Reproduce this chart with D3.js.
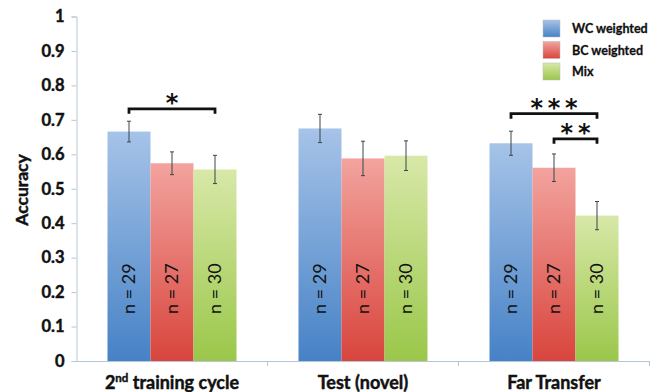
<!DOCTYPE html>
<html><head><meta charset="utf-8">
<script src="https://cdn.jsdelivr.net/npm/d3@7"></script>
<style>body{margin:0;background:#fff}svg{display:block}</style>
</head><body>
<svg id="c" width="652" height="392"></svg>
<script>
const categories = ["2nd training cycle", "Test (novel)", "Far Transfer"];
const seriesNames = ["WC weighted", "BC weighted", "Mix"];
const means = [
  [0.666, 0.675, 0.632],
  [0.574, 0.588, 0.561],
  [0.556, 0.596, 0.422]
];
const errors = [
  [0.030, 0.041, 0.035],
  [0.033, 0.050, 0.040],
  [0.041, 0.043, 0.041]
];
const nLabels = [
  ["n = 29", "n = 29", "n = 29"],
  ["n = 27", "n = 27", "n = 27"],
  ["n = 30", "n = 30", "n = 30"]
];
const yTicks = [0, 0.1, 0.2, 0.3, 0.4, 0.5, 0.6, 0.7, 0.8, 0.9, 1];
const sigBrackets = [
  {cat: 0, from: 0, to: 2, label: "*", at: 0.732},
  {cat: 2, from: 0, to: 2, label: "***", at: 0.718},
  {cat: 2, from: 1, to: 2, label: "**", at: 0.645}
];

const colors = [
  ["#a6c3e8", "#4682c6"],
  ["#f3a39e", "#d8453d"],
  ["#d8e8a8", "#9ac74a"]
];

const svg = d3.select("#c");
const font = "Lato, 'Open Sans', sans-serif";
const x0 = d3.scaleBand().domain(d3.range(categories.length)).range([76.5, 649.5]).paddingInner(0).paddingOuter(0);
const barW = 43;
const x1 = d3.scaleBand().domain(d3.range(seriesNames.length)).range([0, barW * 3]);
const groupOffset = (x0.bandwidth() - barW * 3) / 2;
const y = d3.scaleLinear().domain([0, 1]).range([361, 16.5]);

const defs = svg.append("defs");
colors.forEach((c, i) => {
  const g = defs.append("linearGradient").attr("id", "g" + i).attr("x1", 0).attr("y1", 0).attr("x2", 0).attr("y2", 1);
  g.append("stop").attr("offset", "0%").attr("stop-color", c[0]);
  g.append("stop").attr("offset", "100%").attr("stop-color", c[1]);
});

const boldText = sel => sel.attr("font-family", font).attr("font-weight", "bold").attr("fill", "#111")
  .attr("stroke", "#111").attr("stroke-width", 0.45);

// y axis
const yAxis = d3.axisLeft(y).tickValues(yTicks).tickSize(5).tickPadding(7)
  .tickFormat(d => d === 0 ? "0" : d === 1 ? "1" : d3.format(".1f")(d));
const ga = svg.append("g").attr("transform", "translate(76.5,0)").call(yAxis);
ga.select(".domain").attr("stroke", "#b7c6d6");
ga.selectAll(".tick line").attr("stroke", "#b7c6d6");
ga.selectAll(".tick text").call(boldText).attr("font-size", 16.5);

// x axis
const xAxis = d3.axisBottom(x0).tickSize(0).tickFormat("");
const gx = svg.append("g").attr("transform", "translate(0,361)").call(xAxis);
gx.select(".domain").attr("stroke", "#b7c6d6");
svg.append("g").selectAll("line").data(d3.range(1, categories.length + 1)).join("line")
  .attr("x1", d => x0(d - 1) + x0.bandwidth()).attr("x2", d => x0(d - 1) + x0.bandwidth())
  .attr("y1", 361).attr("y2", 366).attr("stroke", "#b7c6d6");

// bars
const flat = [];
means.forEach((s, si) => s.forEach((v, ci) => flat.push({si, ci, v, e: errors[si][ci], n: nLabels[si][ci]})));
const bx = d => x0(d.ci) + groupOffset + x1(d.si);

svg.append("g").selectAll("rect").data(flat).join("rect")
  .attr("x", bx).attr("width", x1.bandwidth())
  .attr("y", d => y(d.v)).attr("height", d => y(0) - y(d.v))
  .attr("fill", d => `url(#g${d.si})`);

// error bars
const eg = svg.append("g").attr("stroke", "#37474f").attr("stroke-width", 1);
flat.forEach(d => {
  const cx = bx(d) + x1.bandwidth() / 2;
  eg.append("line").attr("x1", cx).attr("x2", cx).attr("y1", y(d.v + d.e)).attr("y2", y(d.v - d.e));
  eg.append("line").attr("x1", cx - 2).attr("x2", cx + 2).attr("y1", y(d.v + d.e)).attr("y2", y(d.v + d.e));
  eg.append("line").attr("x1", cx - 2).attr("x2", cx + 2).attr("y1", y(d.v - d.e)).attr("y2", y(d.v - d.e));
});

// n labels
svg.append("g").selectAll("text").data(flat).join("text")
  .attr("transform", d => `translate(${bx(d) + x1.bandwidth() / 2 + 6},${y(0.21)}) rotate(-90)`)
  .attr("text-anchor", "middle").attr("font-family", font).attr("font-size", 18).attr("fill", "#111")
  .text(d => d.n);

// significance brackets
const bg = svg.append("g");
sigBrackets.forEach(b => {
  const xa = x0(b.cat) + groupOffset + x1(b.from) + x1.bandwidth() / 2;
  const xb = x0(b.cat) + groupOffset + x1(b.to) + x1.bandwidth() / 2;
  const yy = y(b.at);
  bg.append("path").attr("d", `M${xa},${yy + 5}V${yy}H${xb}V${yy + 5}`)
    .attr("fill", "none").attr("stroke", "#111").attr("stroke-width", 2.8);
  bg.append("text").attr("x", (xa + xb) / 2).attr("y", yy + 2).attr("text-anchor", "middle")
    .attr("font-family", "'DejaVu Sans', sans-serif").attr("font-weight", "bold").attr("font-size", 24)
    .attr("fill", "#111").text(b.label.split("").join("\u2009"));
});

// category labels
const cl = svg.append("g");
categories.forEach((c, i) => {
  const t = cl.append("text").attr("x", x0(i) + x0.bandwidth() / 2).attr("y", 389)
    .attr("text-anchor", "middle").call(boldText).attr("font-size", 18);
  if (c.startsWith("2nd")) {
    t.append("tspan").text("2");
    t.append("tspan").attr("font-size", 11.5).attr("dy", -7).text("nd");
    t.append("tspan").attr("dy", 7).text(" training cycle");
  } else t.text(c);
});

// y label
svg.append("text").attr("transform", "translate(28,190) rotate(-90)").attr("text-anchor", "middle")
  .call(boldText).attr("font-size", 17.5).text("Accuracy");

// legend
const lg = svg.append("g").attr("transform", "translate(543,20)");
seriesNames.forEach((s, i) => {
  const g = lg.append("g").attr("transform", `translate(0,${i * 21.5})`);
  g.append("rect").attr("width", 17).attr("height", 17).attr("fill", `url(#g${i})`).attr("stroke", "#bbb").attr("stroke-width", 0.5);
  g.append("text").attr("x", 29).attr("y", 13).call(boldText).attr("stroke-width", 0.3).attr("font-size", 12.5).text(s);
});
</script>
</body></html>
